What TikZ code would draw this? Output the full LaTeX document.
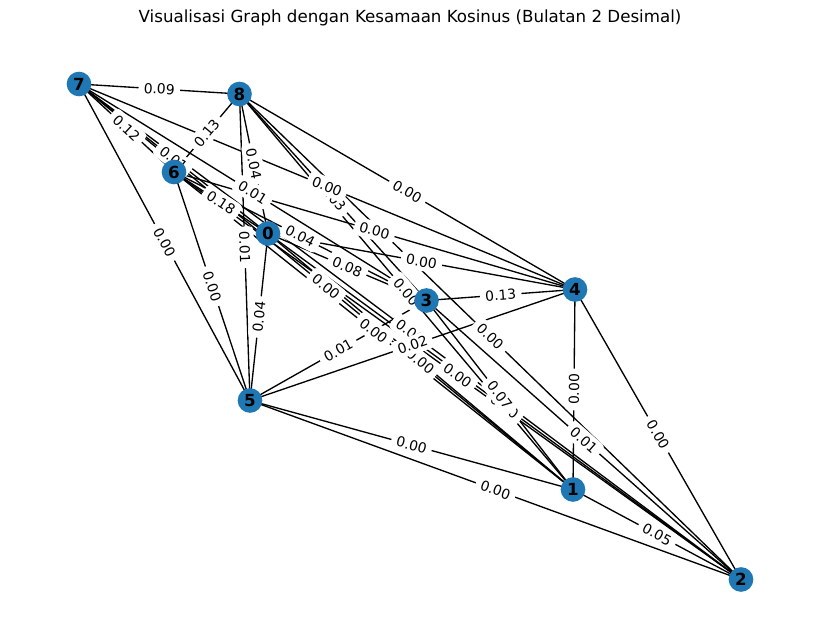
\documentclass[tikz,border=0pt]{standalone}
\usepackage{fontspec}
\setmainfont{DejaVu Sans}
\begin{document}
\begin{tikzpicture}[x=0.75pt,y=-0.75pt,
  gnode/.style={circle,fill={rgb,255:red,31;green,119;blue,180},minimum size=18.5pt,inner sep=0pt,font=\fontsize{12.5}{14}\selectfont\bfseries},
  edge/.style={line width=1pt,black},
  elabel/.style={midway,sloped,fill=white,rounded corners=3pt,inner xsep=4pt,inner ysep=3pt,font=\fontsize{10.4}{12}\selectfont}]
\useasboundingbox (0,0) rectangle (819,642);
\node[font=\fontsize{12.5}{14}\selectfont] (title) at (410,18) {Visualisasi Graph dengan Kesamaan Kosinus (Bulatan 2 Desimal)};
% node positions
\coordinate (p0) at (268,233.5);
\coordinate (p1) at (573,489.5);
\coordinate (p2) at (741,579.5);
\coordinate (p3) at (426.5,300.5);
\coordinate (p4) at (575,289.5);
\coordinate (p5) at (250,400.5);
\coordinate (p6) at (174,172);
\coordinate (p7) at (79,84);
\coordinate (p8) at (239.5,94);
% edges
\foreach \a/\b in {0/1,0/2,0/3,0/4,0/5,0/6,0/7,0/8,1/2,1/3,1/4,1/5,1/6,1/7,1/8,2/3,2/4,2/5,2/6,2/7,2/8,3/4,3/5,3/6,3/7,3/8,4/5,4/6,4/7,4/8,5/6,5/7,5/8,6/7,6/8,7/8}
  \draw[edge] (p\a) -- (p\b);
% edge labels
\foreach \a/\b/\w in {0/1/0.00,0/2/0.00,0/3/0.08,0/4/0.00,0/5/0.04,0/6/0.18,0/7/0.01,0/8/0.04,
  1/2/0.05,1/3/0.07,1/4/0.00,1/5/0.00,1/6/0.00,1/7/0.00,1/8/0.00,
  2/3/0.01,2/4/0.00,2/5/0.00,2/6/0.00,2/7/0.00,2/8/0.00,
  3/4/0.13,3/5/0.01,3/6/0.04,3/7/0.01,3/8/0.03,
  4/5/0.02,4/6/0.00,4/7/0.00,4/8/0.00,
  5/6/0.00,5/7/0.00,5/8/0.01,6/7/0.12,6/8/0.13,7/8/0.09}
  \path (p\a) -- (p\b) node[elabel] (l\a\b) {\w};
% nodes
\foreach \i in {0,...,8}
  \node[gnode] (n\i) at (p\i) {\i};
\end{tikzpicture}
\end{document}
